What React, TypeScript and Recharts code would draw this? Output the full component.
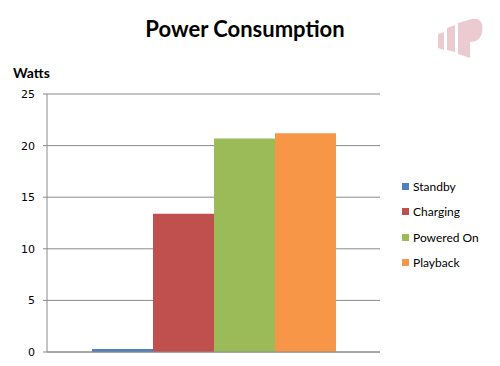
import React from 'react';
import { BarChart, Bar, XAxis, YAxis, CartesianGrid } from 'recharts';

const seriesNames = ['Standby', 'Charging', 'Powered On', 'Playback'];
const seriesValues = [0.3, 13.4, 20.7, 21.2];
const seriesColors = ['#4F81BD', '#C0504D', '#9BBB59', '#F79646'];
const yTicks = [0, 5, 10, 15, 20, 25];

const row: Record<string, string | number> = { name: 'Power' };
seriesNames.forEach((n, i) => {
  row[n] = seriesValues[i];
});
const data = [row];

const Logo = () => (
  <svg width={60} height={50} style={{ position: 'absolute', left: 432, top: 14 }}>
    <g fill="#EBCBD1">
      <polygon points="6,20 12,18 12,36 6,34" />
      <polygon points="15,14 23,11 23,38 15,36" />
      <path d="M26,9 L40,5 C48,3 52,10 50,18 C49,25 44,28 38,28 L38,44 L26,40 Z" />
    </g>
  </svg>
);

export default function App() {
  return (
    <div style={{ position: 'fixed', left: 0, top: 0, width: 500, height: 366, background: '#fff', overflow: 'hidden' }}>
      <div
        style={{
          position: 'absolute',
          left: 0,
          width: 490,
          top: 15,
          textAlign: 'center',
          fontFamily: 'Lato, "Open Sans", sans-serif',
          fontWeight: 700,
          fontSize: 22,
          color: '#000',
        }}
      >
        Power Consumption
      </div>
      <div
        style={{
          position: 'absolute',
          left: 13,
          top: 64,
          fontFamily: 'Lato, "Open Sans", sans-serif',
          fontWeight: 700,
          fontSize: 14,
          color: '#000',
        }}
      >
        Watts
      </div>
      <Logo />
      <BarChart
        width={500}
        height={366}
        data={data}
        margin={{ top: 94, right: 120, bottom: 13, left: 0 }}
        barGap={0}
        barCategoryGap={45}
      >
        <CartesianGrid vertical={false} stroke="#8A8A8A" strokeWidth={1} />
        <XAxis dataKey="name" tick={false} tickLine={false} height={1} axisLine={{ stroke: '#8A8A8A' }} />
        <YAxis
          width={47}
          domain={[0, 25]}
          ticks={yTicks}
          interval={0}
          tickSize={4}
          tickMargin={8}
          axisLine={{ stroke: '#8A8A8A' }}
          tickLine={{ stroke: '#8A8A8A' }}
          tick={{ fill: '#000', fontSize: 11, fontFamily: '"DejaVu Sans", Verdana, sans-serif' }}
        />
        {seriesNames.map((n, i) => (
          <Bar key={n} dataKey={n} fill={seriesColors[i]} isAnimationActive={false} />
        ))}
      </BarChart>
      <div style={{ position: 'absolute', left: 402, top: 174 }}>
        {seriesNames.map((n, i) => (
          <div
            key={n}
            style={{
              height: 25.3,
              display: 'flex',
              alignItems: 'center',
              fontFamily: 'Lato, "Open Sans", sans-serif',
              fontSize: 12,
              color: '#000',
            }}
          >
            <span style={{ width: 7, height: 7, background: seriesColors[i], marginRight: 4, display: 'inline-block' }} />
            {n}
          </div>
        ))}
      </div>
    </div>
  );
}
